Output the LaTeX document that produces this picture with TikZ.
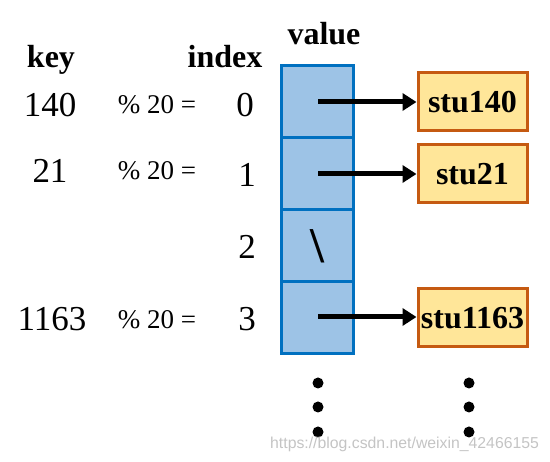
\documentclass[tikz,border=0pt]{standalone}
\usepackage{fontspec}
\setmainfont{Liberation Serif}
\newfontfamily\wmfont{Liberation Sans}
\usetikzlibrary{arrows.meta}
\definecolor{cellfill}{HTML}{9DC3E6}
\definecolor{celldraw}{HTML}{0070C0}
\definecolor{stufill}{HTML}{FFE699}
\definecolor{studraw}{HTML}{C55A11}
\definecolor{wmgray}{HTML}{C4C4C4}
\tikzset{
  cell/.style={draw=celldraw, fill=cellfill, line width=3pt, minimum width=72pt, minimum height=72pt, inner sep=0pt},
  stubox/.style={draw=studraw, fill=stufill, line width=3pt, minimum width=109pt, minimum height=58pt, inner sep=0pt, font=\fontsize{32}{38}\selectfont\bfseries},
  head/.style={anchor=base, inner sep=0pt, font=\fontsize{32}{38}\selectfont\bfseries},
  num/.style={anchor=base, inner sep=0pt, font=\fontsize{35}{42}\selectfont},
  modtxt/.style={anchor=base, inner sep=0pt, font=\fontsize{27}{32}\selectfont},
  ptr/.style={line width=5pt, -{Triangle[length=14pt,width=17pt]}},
  dot/.style={circle, fill=black, minimum size=11pt, inner sep=0pt}
}
\begin{document}
\begin{tikzpicture}[x=1pt,y=-1pt]
\useasboundingbox (0,0) rectangle (550,462);
% headings
\node[head] (hkey) at (51,68) {key};
\node[head] (hindex) at (225,68) {index};
\node[head] (hvalue) at (324,45) {value};
% keys
\node[num] (k0) at (50,117) {140};
\node[num] (k1) at (50,183) {21};
\node[num] (k3) at (52,331) {1163};
% mod
\node[modtxt] (m0) at (157,114) {\% 20 =};
\node[modtxt] (m1) at (157,180) {\% 20 =};
\node[modtxt] (m3) at (157,329) {\% 20 =};
% indices
\node[num] (i0) at (245,117) {0};
\node[num] (i1) at (247,187) {1};
\node[num] (i2) at (247,259) {2};
\node[num] (i3) at (247,331) {3};
% cells
\node[cell] (c0) at (317,102) {};
\node[cell] (c1) at (317,174) {};
\node[cell] (c2) at (317,246) {\fontsize{50}{60}\selectfont\bfseries\textbackslash};
\node[cell] (c3) at (317,318) {};
% student boxes
\node[stubox] (s0) at (472.5,102) {stu140};
\node[stubox] (s1) at (472.5,174) {stu21};
\node[stubox] (s3) at (472.5,318) {stu1163};
% pointers
\coordinate (p0) at (318,102);
\coordinate (p1) at (318,174);
\coordinate (p3) at (318,317);
\draw[ptr] (p0) -- (s0.west);
\draw[ptr] (p1) -- (s1.west);
\draw[ptr] (p3) -- (s3.west |- p3);
% dots
\node[dot] (d1) at (318,383) {};
\node[dot] (d2) at (318,407) {};
\node[dot] (d3) at (318,432) {};
\node[dot] (e1) at (469,383) {};
\node[dot] (e2) at (469,407) {};
\node[dot] (e3) at (469,432) {};
% watermark
\node[anchor=base west, inner sep=0pt, text=wmgray, font=\wmfont\fontsize{15.8}{19}\selectfont] (wm) at (270,449) {https://blog.csdn.net/weixin\_42466155};
\end{tikzpicture}
\end{document}
